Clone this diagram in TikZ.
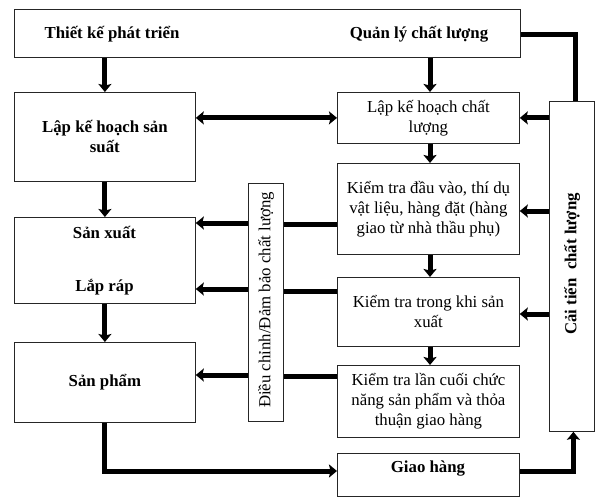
\documentclass[tikz,border=0pt]{standalone}
\usepackage{fontspec}
\setmainfont{Liberation Serif}
\usetikzlibrary{arrows.meta}
\newcommand{\boxfont}{\fontsize{16.8}{20}\selectfont}
\begin{document}
\begin{tikzpicture}[x=1pt,y=-1pt,
  box/.style={draw=black!85, line width=0.8pt, inner sep=0pt, anchor=north west, align=center,
              font=\boxfont},
  bbox/.style={box, font=\boxfont\bfseries},
  lbl/.style={inner sep=0pt, font=\boxfont\bfseries},
  conn/.style={line width=5pt, line join=miter},
  arr/.style={conn, -{Stealth[length=8pt,width=13pt,inset=1.5pt]}},
  darr/.style={conn, {Stealth[length=8pt,width=13pt,inset=1.5pt]}-{Stealth[length=8pt,width=13pt,inset=1.5pt]}}]
\useasboundingbox[fill=white] (0,0) rectangle (596,497);

% top band
\node[box, minimum width=506pt, minimum height=48pt] (top) at (14,9) {};
\node[lbl] (tk) at (112,34) {Thiết kế phát triển};
\node[lbl] (ql) at (419,34) {Quản lý chất lượng};

% left column: production flow
\node[bbox, minimum width=181pt, minimum height=89pt] (lkhss) at (14,92) {Lập kế hoạch sản\\suất};
\node[box, minimum width=181pt, minimum height=86pt] (sx) at (14,217) {};
\node[lbl] (sxt) at (104.5,232) {Sản xuất};
\node[lbl] (lrt) at (104.5,287) {Lắp ráp};
\node[bbox, minimum width=181pt, minimum height=80pt] (sp) at (14,342) {Sản phẩm};

% right column: quality steps
\node[box, minimum width=182pt, minimum height=51pt] (lkhcl) at (337,92) {Lập kế hoạch chất\\lượng};
\node[box, minimum width=182pt, minimum height=91pt] (ktdv) at (337,163) {Kiểm tra đầu vào, thí dụ\\vật liệu, hàng đặt (hàng\\giao từ nhà thầu phụ)};
\node[box, minimum width=182pt, minimum height=69pt] (kttk) at (337,277) {Kiểm tra trong khi sản\\xuất};
\node[box, minimum width=182pt, minimum height=72pt] (ktlc) at (337,365) {Kiểm tra lần cuối chức\\năng sản phẩm và thỏa\\thuận giao hàng};
\node[box, minimum width=182pt, minimum height=43pt] (gh) at (337,453) {};
\node[lbl] (ght) at (428,469) {Giao hàng};

% vertical bars
\node[box, minimum width=35pt, minimum height=238pt] (dc) at (248,183) {};
\node[inner sep=0pt, rotate=90, font=\boxfont] (dct) at (266,300) {Điều chỉnh/Đảm bảo chất lượng};
\node[box, minimum width=45pt, minimum height=330pt] (ct) at (549,101) {};
\node[inner sep=0pt, rotate=90, font=\boxfont\bfseries] (ctt) at (572,264) {Cải tiến\ \ chất lượng};

% production flow connectors
\draw[arr] (top.south -| lkhss.north) -- (lkhss.north);
\draw[arr] (lkhss.south) -- (sx.north);
\draw[arr] (sx.south) -- (sp.north);
\draw[arr] (sp.south) |- (gh.west |- 0,471);
\draw[arr] (gh.east |- 0,471) -| ([xshift=1.5pt]ct.south);
\draw[conn] (top.east |- 0,35) -| ([xshift=3.5pt]ct.north);

% quality flow connectors
\draw[arr] (top.south -| 430,0) -- (lkhcl.north -| 430,0);
\draw[arr] (lkhcl.south -| 430,0) -- (ktdv.north -| 430,0);
\draw[arr] (ktdv.south -| 430,0) -- (kttk.north -| 430,0);
\draw[arr] (kttk.south -| 430,0) -- (ktlc.north -| 430,0);
\draw[darr] (lkhss.east |- lkhcl.west) -- (lkhcl.west);

% feedback from improvement bar
\draw[arr] (ct.west |- lkhcl.east) -- (lkhcl.east);
\draw[arr] (ct.west |- 0,211) -- (ktdv.east |- 0,211);
\draw[arr] (ct.west |- 0,314) -- (kttk.east |- 0,314);

% inspection results into the correction bar
\draw[conn] (ktdv.west |- 0,224) -- (dc.east |- 0,224);
\draw[conn] (kttk.west |- 0,291) -- (dc.east |- 0,291);
\draw[conn] (ktlc.west |- 0,376) -- (dc.east |- 0,376);

% corrections back to production
\draw[arr] (dc.west |- 0,223) -- (sx.east |- 0,223);
\draw[arr] (dc.west |- 0,289) -- (sx.east |- 0,289);
\draw[arr] (dc.west |- 0,375) -- (sp.east |- 0,375);
\end{tikzpicture}
\end{document}
